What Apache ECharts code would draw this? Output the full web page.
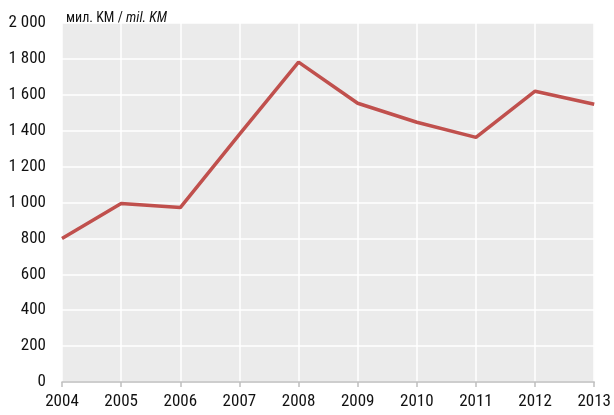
<!DOCTYPE html>
<html><head><meta charset="utf-8">
<script src="https://cdn.jsdelivr.net/npm/echarts@6/dist/echarts.min.js"></script>
<style>html,body{margin:0;padding:0;background:#fff}#c{width:614px;height:415px}</style>
</head><body><div id="c"></div>
<script>
const years = ['2004','2005','2006','2007','2008','2009','2010','2011','2012','2013'];
const values = [800, 995, 972, 1380, 1782, 1553, 1447, 1363, 1620, 1547];
const FONT = '"Liberation Sans Narrow","Roboto Condensed","DejaVu Sans Condensed",sans-serif';
const chart = echarts.init(document.getElementById('c'), null, {renderer:'canvas'});
chart.setOption({
  animation:false,
  title:{
    text:'{a|мил. KM / }{b|mil. KM}',
    left:61, top:6,
    textStyle:{fontWeight:'normal',rich:{
      a:{fontFamily:FONT,fontSize:14,color:'#111',fontWeight:'normal'},
      b:{fontFamily:FONT,fontSize:14,color:'#111',fontStyle:'italic',fontWeight:'normal'}
    }}
  },
  grid:{left:62,right:17,top:23,bottom:33,show:true,backgroundColor:'#ebebeb',borderWidth:0},
  xAxis:{
    type:'category',data:years,boundaryGap:false,
    axisLine:{lineStyle:{color:'#bfbfbf',width:1.5}},
    axisTick:{show:true,length:5,lineStyle:{color:'#bfbfbf',width:1.5}},
    axisLabel:{fontFamily:FONT,fontSize:17,color:'#111',margin:11},
    splitLine:{show:true,lineStyle:{color:'#ffffff',width:1.5}}
  },
  yAxis:{
    type:'value',min:0,max:2000,interval:200,
    axisLine:{show:false},axisTick:{show:false},
    axisLabel:{fontFamily:FONT,fontSize:17,color:'#111',margin:16,
      formatter:v=>String(v).replace(/\B(?=(\d{3})+(?!\d))/g,' ')},
    splitLine:{show:true,lineStyle:{color:'#ffffff',width:1.5}}
  },
  series:[{type:'line',data:values,symbol:'none',
    lineStyle:{color:'#c0504d',width:3.5},itemStyle:{color:'#c0504d'}}]
});
</script></body></html>
